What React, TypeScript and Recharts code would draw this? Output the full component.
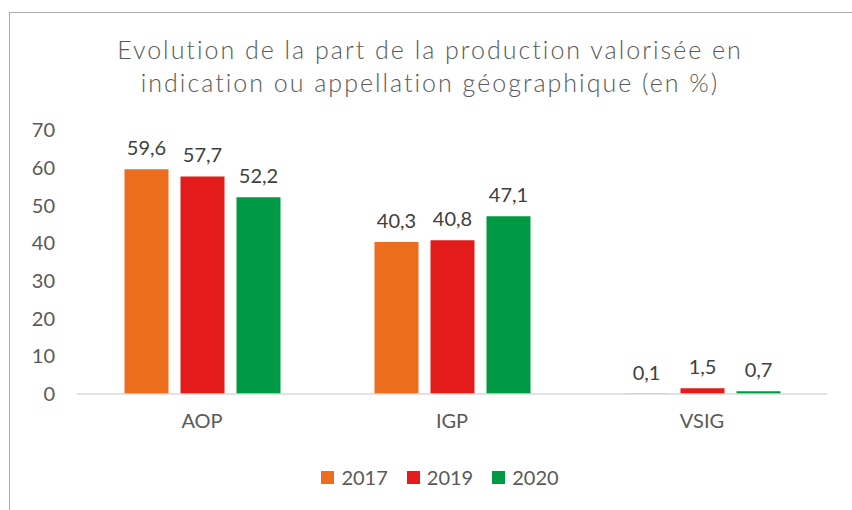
import { Bar, BarChart, LabelList, Legend, XAxis, YAxis } from 'recharts';

const categories = ['AOP', 'IGP', 'VSIG'];
const years = ['2017', '2019', '2020'];
const values2017 = [59.6, 40.3, 0.1];
const values2019 = [57.7, 40.8, 1.5];
const values2020 = [52.2, 47.1, 0.7];
const yTicks = [0, 10, 20, 30, 40, 50, 60, 70];

const colors = ['#ED6D1F', '#E31B1B', '#009A44'];

const data = categories.map((name, i) => ({
  name,
  '2017': values2017[i],
  '2019': values2019[i],
  '2020': values2020[i],
}));

const textColor = '#595959';
const font = 'Lato, sans-serif';

const formatValue = (v: any) => String(v).replace('.', ',');

function LegendContent() {
  return (
    <div
      style={{
        display: 'flex',
        justifyContent: 'center',
        gap: 19,
        fontFamily: font,
        fontSize: 20,
        color: textColor,
        paddingLeft: 36,
      }}
    >
      {years.map((y, i) => (
        <div key={y} style={{ display: 'flex', alignItems: 'center', gap: 7 }}>
          <span style={{ width: 13, height: 13, background: colors[i], display: 'inline-block' }} />
          <span>{y}</span>
        </div>
      ))}
    </div>
  );
}

export default function App() {
  return (
    <div style={{ position: 'absolute', left: 0, top: 0, width: 852, height: 510, background: '#fff', overflow: 'hidden' }}>
      <div
        style={{
          position: 'absolute',
          left: 9,
          top: 12,
          width: 900,
          height: 600,
          borderLeft: '1.5px solid #ababab',
          borderTop: '1.5px solid #ababab',
        }}
      />
      <div
        style={{
          position: 'absolute',
          left: 0,
          top: 33,
          width: 860,
          textAlign: 'center',
          fontFamily: font,
          fontWeight: 300,
          fontSize: 25,
          letterSpacing: 2,
          lineHeight: '33px',
          color: textColor,
        }}
      >
        Evolution de la part de la production valorisée en
        <br />
        indication ou appellation géographique (en %)
      </div>
      <BarChart
        width={852}
        height={510}
        data={data}
        margin={{ top: 130, right: 25, left: 17, bottom: 0 }}
        barCategoryGap="19%"
        barGap={12}
        style={{ position: 'absolute', left: 0, top: 0 }}
      >
        <XAxis
          dataKey="name"
          height={40}
          tickLine={false}
          tickSize={0}
          tickMargin={20}
          axisLine={{ stroke: '#d9d9d9', strokeWidth: 1.5 }}
          tick={{ fill: textColor, fontSize: 20, fontFamily: font }}
        />
        <YAxis
          width={60}
          domain={[0, 70]}
          ticks={yTicks}
          interval={0}
          axisLine={false}
          tickLine={false}
          tickSize={0}
          tickMargin={22}
          tick={{ fill: textColor, fontSize: 20, fontFamily: font }}
        />
        <Legend
          verticalAlign="bottom"
          content={<LegendContent />}
          wrapperStyle={{ paddingTop: 31, paddingBottom: 21 }}
        />
        {years.map((y, i) => (
          <Bar key={y} dataKey={y} fill={colors[i]} isAnimationActive={false}>
            <LabelList
              dataKey={y}
              position="top"
              offset={14}
              formatter={formatValue}
              style={{ fill: '#404040', fontSize: 20, fontFamily: font }}
            />
          </Bar>
        ))}
      </BarChart>
    </div>
  );
}
